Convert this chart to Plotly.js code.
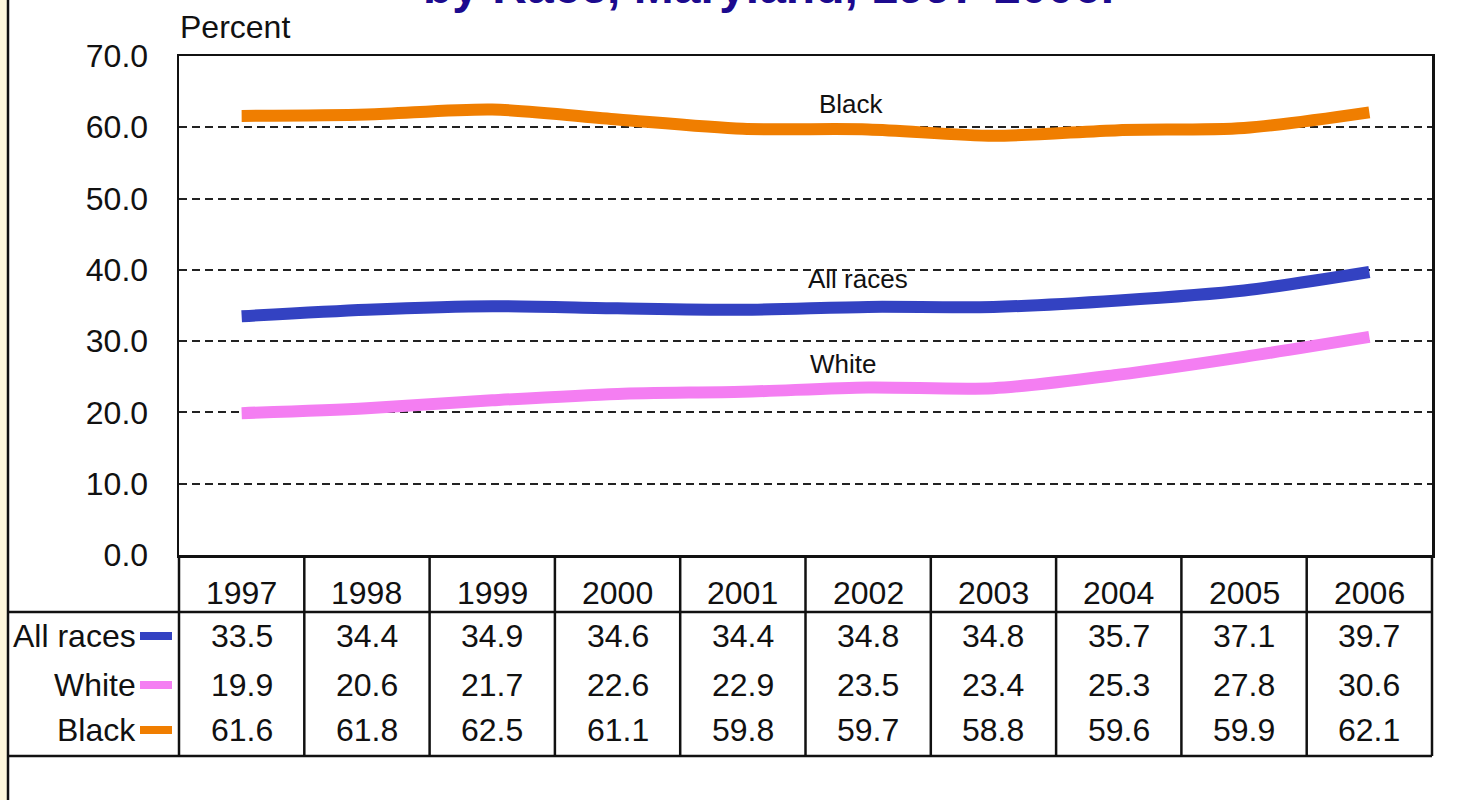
<!DOCTYPE html>
<html><head><meta charset="utf-8">
<script src="https://cdn.plot.ly/plotly-3.0.1.min.js"></script>
<style>html,body{margin:0;padding:0;background:#fff;} #chart{width:1464px;height:800px;}</style>
</head><body><div id="chart"></div>
<script>
// ---- data ----
const years = [1997, 1998, 1999, 2000, 2001, 2002, 2003, 2004, 2005, 2006];
const seriesNames = ['All races', 'White', 'Black'];
const allRaces = [33.5, 34.4, 34.9, 34.6, 34.4, 34.8, 34.8, 35.7, 37.1, 39.7];
const white = [19.9, 20.6, 21.7, 22.6, 22.9, 23.5, 23.4, 25.3, 27.8, 30.6];
const black = [61.6, 61.8, 62.5, 61.1, 59.8, 59.7, 58.8, 59.6, 59.9, 62.1];
const yTickValues = [0, 10, 20, 30, 40, 50, 60, 70];
const titleText = 'by Race, Maryland, 1997-2006.';
const yAxisLabel = 'Percent';

// ---- layout helpers (pixel -> paper) ----
const L = 179, R = 1432, T = 56, B = 555;
const px = X => (X - L) / (R - L);
const py = Y => (B - Y) / (B - T);
const FONT = 'Liberation Sans, Arial, sans-serif';
const FS = 32;
const colors = ['#3342c2', '#f47ef2', '#f07e00'];
const seriesValues = [allRaces, white, black];
const rowY = [636, 685, 730];
const lineLabelPos = [[2001.92, 38.7], [2001.8, 26.8], [2001.87, 63.3]];

const traces = seriesValues.map((v, i) => ({
  x: years, y: v, type: 'scatter', mode: 'lines', name: seriesNames[i],
  line: {color: colors[i], width: 12, shape: 'spline', smoothing: 0.8},
  hoverinfo: 'skip'
}));

const annotations = [];
// title (cut off at top edge, as in the reference)
annotations.push({text: '<b>' + titleText + '</b>', xref: 'paper', yref: 'paper',
  x: px(768), y: py(-14), xanchor: 'center', yanchor: 'middle', showarrow: false,
  font: {family: FONT, size: 48, color: '#1c0a8e'}});
annotations.push({text: yAxisLabel, xref: 'paper', yref: 'paper', x: px(178), y: py(27),
  xanchor: 'left', yanchor: 'middle', showarrow: false, font: {family: FONT, size: FS, color: '#111'}});
// line labels
seriesNames.forEach((n, i) => annotations.push({text: n, x: lineLabelPos[i][0], y: lineLabelPos[i][1],
  xref: 'x', yref: 'y', showarrow: false, xanchor: 'center', yanchor: 'middle',
  font: {family: FONT, size: 26, color: '#111'}}));
// year header
years.forEach(yr => annotations.push({text: String(yr), x: yr, xref: 'x', y: py(593), yref: 'paper',
  showarrow: false, xanchor: 'center', yanchor: 'middle', font: {family: FONT, size: FS, color: '#111'}}));
// table values
seriesValues.forEach((vals, i) => {
  annotations.push({text: seriesNames[i], xref: 'paper', yref: 'paper', x: px(138), y: py(rowY[i]),
    xanchor: 'right', yanchor: 'middle', showarrow: false, font: {family: FONT, size: FS, color: '#111'}});
  vals.forEach((v, j) => annotations.push({text: v.toFixed(1), x: years[j], xref: 'x', y: py(rowY[i]),
    yref: 'paper', showarrow: false, xanchor: 'center', yanchor: 'middle',
    font: {family: FONT, size: FS, color: '#111'}}));
});

const shapes = [];
const ln = {color: '#111', width: 2.5};
// cream strip and page border
shapes.push({type: 'rect', xref: 'paper', yref: 'paper', x0: px(-5), x1: px(8), y0: py(-5), y1: py(805),
  fillcolor: '#fff8dc', line: {width: 0}, layer: 'below'});
shapes.push({type: 'line', xref: 'paper', yref: 'paper', x0: px(8), x1: px(8), y0: py(-5), y1: py(805), line: ln});
// table horizontals
shapes.push({type: 'line', xref: 'paper', yref: 'paper', x0: px(8), x1: 1, y0: py(612), y1: py(612), line: ln});
shapes.push({type: 'line', xref: 'paper', yref: 'paper', x0: px(8), x1: 1, y0: py(756), y1: py(756), line: ln});
// table verticals
shapes.push({type: 'line', xref: 'paper', yref: 'paper', x0: 0, x1: 0, y0: 0, y1: py(756), line: ln});
shapes.push({type: 'line', xref: 'paper', yref: 'paper', x0: 1, x1: 1, y0: 0, y1: py(756), line: ln});
years.slice(1).forEach(yr => shapes.push({type: 'line', xref: 'x', yref: 'paper', x0: yr - 0.5, x1: yr - 0.5,
  y0: 0, y1: py(756), line: ln}));
// legend swatches
colors.forEach((c, i) => shapes.push({type: 'rect', xref: 'paper', yref: 'paper', x0: px(140), x1: px(172),
  y0: py(rowY[i] + 4), y1: py(rowY[i] - 4), fillcolor: c, line: {width: 0}}));

const layout = {
  width: 1464, height: 800, showlegend: false,
  margin: {l: L, r: 1464 - R, t: T, b: 800 - B, pad: 0},
  paper_bgcolor: '#ffffff', plot_bgcolor: '#ffffff',
  font: {family: FONT, color: '#111'},
  xaxis: {range: [years[0] - 0.5, years[years.length - 1] + 0.5], showgrid: false, zeroline: false,
    showticklabels: false, ticks: '', showline: true, mirror: true, linecolor: '#111', linewidth: 2.5, fixedrange: true},
  yaxis: {range: [0, 70], tickvals: yTickValues, tickformat: '.1f', showgrid: true, gridcolor: '#222',
    griddash: '8px,5px', gridwidth: 2, zeroline: false, showline: true, mirror: true, linecolor: '#111',
    linewidth: 2.5, ticks: 'outside', ticklen: 0, ticklabelstandoff: 22,
    tickfont: {family: FONT, size: FS, color: '#111'}, fixedrange: true},
  annotations: annotations, shapes: shapes, hovermode: false
};
Plotly.newPlot('chart', traces, layout, {staticPlot: true, displayModeBar: false});
</script></body></html>
